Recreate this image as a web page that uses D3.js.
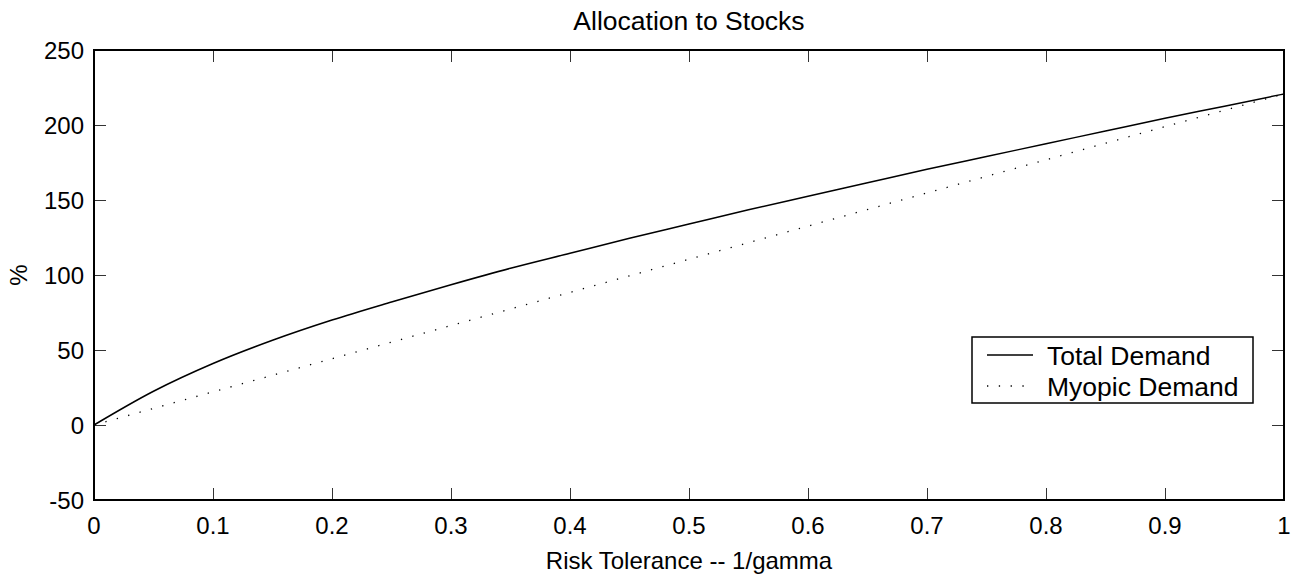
<!DOCTYPE html>
<html>
<head>
<meta charset="utf-8">
<script src="https://cdn.jsdelivr.net/npm/d3@7"></script>
<style>
  html, body { margin: 0; padding: 0; background: #fff; }
  svg { display: block; }
  text { font-family: "Liberation Sans", Arial, Helvetica, sans-serif; fill: #000; }
</style>
</head>
<body>
<svg id="chart" width="1299" height="578"></svg>
<script>
// ---- data ----
const title = "Allocation to Stocks";
const xLabel = "Risk Tolerance -- 1/gamma";
const yLabel = "%";
const xTicks = [0, 0.1, 0.2, 0.3, 0.4, 0.5, 0.6, 0.7, 0.8, 0.9, 1];
const yTicks = [-50, 0, 50, 100, 150, 200, 250];

const totalX = [0, 0.05, 0.1, 0.15, 0.2, 0.25, 0.3, 0.35, 0.4, 0.45, 0.5, 0.55, 0.6, 0.65, 0.7, 0.75, 0.8, 0.85, 0.9, 0.95, 1.0];
const totalY = [0, 22.5, 41, 56.5, 70, 82, 93.5, 104.5, 114.5, 124.5, 134, 143.5, 152.5, 161.5, 170.5, 179, 187.5, 196, 204.5, 212.5, 220.7];

const myopicX = [0, 0.1, 0.2, 0.3, 0.4, 0.5, 0.6, 0.7, 0.8, 0.9, 1.0];
const myopicY = [0, 22.1, 44.2, 66.3, 88.4, 110.5, 132.6, 154.7, 176.8, 198.9, 220.7];

const legendLabels = ["Total Demand", "Myopic Demand"];

// ---- layout ----
const svg = d3.select("#chart");
const L = 94, R = 1284, T = 50, B = 500;
const x = d3.scaleLinear().domain([0, 1]).range([L, R]);
const y = d3.scaleLinear().domain([-50, 250]).range([B, T]);
const FS = 24;
const FS_BIG = 26.5;

// ticks (inward on all sides)
const tickLen = 12;
const g = svg.append("g");
g.append("g").attr("transform", `translate(0,${B})`)
  .call(d3.axisTop(x).tickValues(xTicks).tickSize(tickLen).tickFormat(""))
  .call(a => a.select(".domain").remove())
  .selectAll("line").attr("stroke", "#333").attr("stroke-width", 1);
g.append("g").attr("transform", `translate(0,${T})`)
  .call(d3.axisBottom(x).tickValues(xTicks).tickSize(tickLen).tickFormat(""))
  .call(a => a.select(".domain").remove())
  .selectAll("line").attr("stroke", "#333").attr("stroke-width", 1);
g.append("g").attr("transform", `translate(${L},0)`)
  .call(d3.axisRight(y).tickValues(yTicks).tickSize(tickLen).tickFormat(""))
  .call(a => a.select(".domain").remove())
  .selectAll("line").attr("stroke", "#333").attr("stroke-width", 1);
g.append("g").attr("transform", `translate(${R},0)`)
  .call(d3.axisLeft(y).tickValues(yTicks).tickSize(tickLen).tickFormat(""))
  .call(a => a.select(".domain").remove())
  .selectAll("line").attr("stroke", "#333").attr("stroke-width", 1);

// tick labels
svg.append("g").selectAll("text").data(xTicks).join("text")
  .attr("x", d => x(d)).attr("y", B + 34)
  .attr("text-anchor", "middle").attr("font-size", FS)
  .text(d => d3.format("")(d));
svg.append("g").selectAll("text").data(yTicks).join("text")
  .attr("x", L - 10).attr("y", d => y(d) + 8.5)
  .attr("text-anchor", "end").attr("font-size", FS)
  .text(d => d);

// lines
const lineGen = d3.line().x(d => x(d[0])).y(d => y(d[1]));
svg.append("path")
  .datum(d3.zip(myopicX, myopicY))
  .attr("d", lineGen).attr("fill", "none")
  .attr("stroke", "#000").attr("stroke-width", 1.3)
  .attr("stroke-dasharray", "1.3,10.5");
svg.append("path")
  .datum(d3.zip(totalX, totalY))
  .attr("d", d3.line().curve(d3.curveMonotoneX).x(d => x(d[0])).y(d => y(d[1])))
  .attr("fill", "none").attr("stroke", "#000").attr("stroke-width", 1.5);

// frame
svg.append("rect").attr("x", L).attr("y", T).attr("width", R - L).attr("height", B - T)
  .attr("fill", "none").attr("stroke", "#000").attr("stroke-width", 2);

// titles
svg.append("text").attr("x", (L + R) / 2).attr("y", 30)
  .attr("text-anchor", "middle").attr("font-size", FS_BIG).text(title);
svg.append("text").attr("x", (L + R) / 2).attr("y", 569)
  .attr("text-anchor", "middle").attr("font-size", FS).text(xLabel);
svg.append("text").attr("transform", `translate(27,${(T + B) / 2}) rotate(-90)`)
  .attr("text-anchor", "middle").attr("font-size", FS).text(yLabel);

// legend
const lg = svg.append("g");
lg.append("rect").attr("x", 972).attr("y", 337).attr("width", 281).attr("height", 66)
  .attr("fill", "#fff").attr("stroke", "#000").attr("stroke-width", 1.5);
const styles = [null, "1.3,10.5"];
legendLabels.forEach((lab, i) => {
  const ly = 355 + i * 31;
  lg.append("line").attr("x1", 987).attr("x2", 1033).attr("y1", ly).attr("y2", ly)
    .attr("stroke", "#000").attr("stroke-width", i === 0 ? 1.5 : 1.3)
    .attr("stroke-dasharray", styles[i]);
  lg.append("text").attr("x", 1047).attr("y", ly + 9.5).attr("font-size", FS_BIG).text(lab);
});
</script>
</body>
</html>
